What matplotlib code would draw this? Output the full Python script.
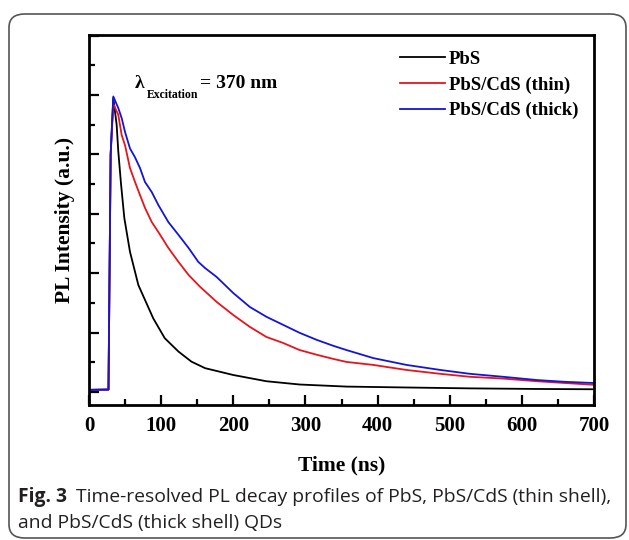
#!/usr/bin/env python3

"""
Time-resolved PL decay of PbS and PbS/CdS core/shell QDs
"""

import matplotlib
matplotlib.use('Agg')
import matplotlib.pyplot as plt
from matplotlib.patches import FancyBboxPatch
from matplotlib.ticker import MultipleLocator

# values (time in ns, normalised PL intensity)
t_pbs = [0, 27, 30, 33.7, 38.3, 40.6, 44.4, 49, 56.8, 68.4, 89, 105, 124, 142,
         161, 200, 246, 292, 357, 440, 528, 621, 700]
i_pbs = [0.007, 0.008, 0.80, 0.99, 0.90, 0.81, 0.70, 0.585, 0.472, 0.36, 0.248,
         0.181, 0.136, 0.102, 0.080, 0.057, 0.036, 0.025, 0.018, 0.015, 0.012,
         0.010, 0.009]

t_thin = [0, 27, 30, 33.7, 40.6, 45.3, 50, 56.8, 63.8, 70.7, 77.6, 87, 96, 110,
          124, 138, 154, 177, 200, 223, 246, 269, 292, 316, 339, 357, 394, 440,
          487, 528, 574, 621, 660, 700]
i_thin = [0.007, 0.008, 0.80, 0.97, 0.933, 0.865, 0.83, 0.754, 0.707, 0.663,
          0.62, 0.572, 0.539, 0.485, 0.438, 0.394, 0.354, 0.303, 0.259, 0.219,
          0.185, 0.165, 0.141, 0.125, 0.111, 0.101, 0.091, 0.074, 0.061, 0.051,
          0.045, 0.036, 0.030, 0.024]

t_thick = [0, 27, 30, 33.7, 40.6, 45.3, 50, 56.8, 63.8, 70.7, 77.6, 87, 96, 110,
           124, 138, 151.5, 161, 177, 200, 223, 246, 269, 292, 316, 339, 357,
           394, 440, 487, 528, 574, 621, 660, 700]
i_thick = [0.007, 0.008, 0.80, 0.995, 0.956, 0.922, 0.875, 0.82, 0.79, 0.754,
           0.707, 0.673, 0.63, 0.572, 0.529, 0.485, 0.438, 0.417, 0.387, 0.333,
           0.286, 0.253, 0.226, 0.199, 0.175, 0.155, 0.141, 0.114, 0.091, 0.074,
           0.061, 0.051, 0.040, 0.034, 0.030]

labels = ['PbS', 'PbS/CdS (thin)', 'PbS/CdS (thick)']
colors = ['black', '#e8141b', '#1414d8']

serif = 'Liberation Serif'
cap_font = 'Open Sans'
cap_color = '#231f20'


def main():
    fig = plt.figure(figsize=(6.29, 5.40), dpi=100)

    # rounded frame around figure + caption
    frame = FancyBboxPatch((9 / 629, 2 / 540), 617 / 629, 524 / 540,
                           boxstyle='round,pad=0,rounding_size=0.025',
                           transform=fig.transFigure, fill=False,
                           edgecolor='#555555', linewidth=1.2)
    fig.patches.append(frame)

    ax = fig.add_axes([89 / 629, 1 - 405 / 540, 505 / 629, 370 / 540])
    for t, i, lab, c in zip([t_pbs, t_thin, t_thick], [i_pbs, i_thin, i_thick],
                            labels, colors):
        ax.plot(t, i, color=c, lw=1.3, label=lab)

    ax.set_xlim(0, 700)
    ax.set_ylim(-0.044, 1.202)
    ax.xaxis.set_major_locator(MultipleLocator(100))
    ax.xaxis.set_minor_locator(MultipleLocator(50))
    ax.yaxis.set_major_locator(MultipleLocator(0.2))
    ax.yaxis.set_minor_locator(MultipleLocator(0.1))
    ax.tick_params(which='both', direction='in', top=False, right=False,
                   width=1.6, labelleft=False)
    ax.tick_params(which='major', length=7)
    ax.tick_params(which='minor', length=4)
    for s in ax.spines.values():
        s.set_linewidth(2.0)
    for lab in ax.get_xticklabels():
        lab.set_fontfamily(serif)
        lab.set_fontweight('bold')
        lab.set_fontsize(15)
    ax.tick_params(axis='x', pad=8)

    ax.set_xlabel('Time (ns)', fontfamily=serif, fontweight='bold',
                  fontsize=15.5, labelpad=14)
    ax.set_ylabel('PL Intensity (a.u.)', fontfamily=serif, fontweight='bold',
                  fontsize=15.5, labelpad=10)

    leg = ax.legend(loc='upper left', bbox_to_anchor=(0.600, 0.978),
                    frameon=False, handlelength=2.4, handletextpad=0.25,
                    labelspacing=0.45, borderaxespad=0,
                    prop={'family': serif, 'weight': 'bold', 'size': 13.5})
    for line in leg.get_lines():
        line.set_linewidth(1.3)

    # excitation wavelength note
    ax.text(0.091, 0.868, '\u03bb', transform=ax.transAxes, fontfamily=serif,
            fontweight='bold', fontsize=14, va='center')
    ax.text(0.115, 0.838, 'Excitation', transform=ax.transAxes,
            fontfamily=serif, fontweight='bold', fontsize=8.5, va='center')
    ax.text(0.220, 0.870, '= 370 nm', transform=ax.transAxes, fontfamily=serif,
            fontweight='bold', fontsize=14, va='center')

    # caption: bold figure number, then the plain text right after it
    y1 = 1 - 497 / 540
    fig_no = fig.text(18 / 629, y1, 'Fig. 3', fontfamily=cap_font,
                      fontweight='bold', fontsize=13.9, va='center',
                      color=cap_color)
    r = fig.canvas.get_renderer()
    x_end = fig_no.get_window_extent(r).x1 / fig.bbox.width
    fig.text(x_end + 9 / 629, y1,
             'Time-resolved PL decay profiles of PbS, PbS/CdS (thin shell),',
             fontfamily=cap_font, fontsize=13.9, va='center', color=cap_color)
    fig.text(18 / 629, 1 - 523 / 540, 'and PbS/CdS (thick shell) QDs',
             fontfamily=cap_font, fontsize=13.9, va='center', color=cap_color)

    fig.savefig('out.png', dpi=100)


if __name__ == '__main__':
    main()
